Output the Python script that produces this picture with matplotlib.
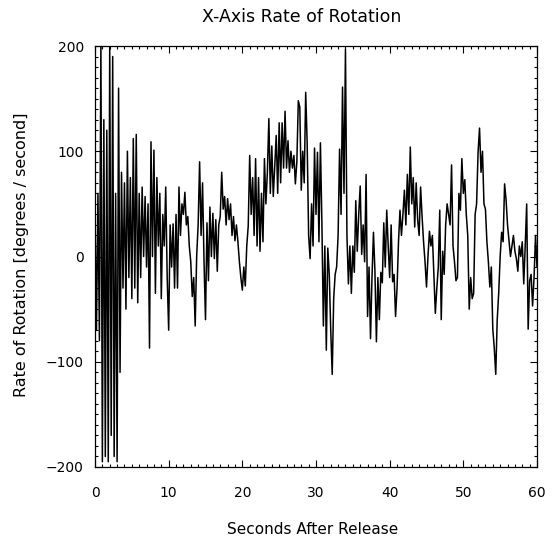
import matplotlib
matplotlib.use("Agg")
import matplotlib.pyplot as plt
from matplotlib.ticker import MultipleLocator
import numpy as np

# Rate of rotation sampled every 0.2 s (one row per second)
rate = [
    40, -70, 60, -80, 200,
    -195, 130, -190, 120, -195,
    200, -170, 190, -190, 60,
    -195, 160, -110, 80, -30,
    70, -50, 100, -20, 75,
    -40, 112, -30, 116, -44,
    60, -20, 66, 0, 57,
    -10, 50, -87, 109, 0,
    101, -35, 75, 10, 60,
    -40, 40, 10, 66, -20,
    -70, 30, -10, 31, -30,
    40, -30, 66, 20, 50,
    40, 61, 30, 38, 10,
    -5, -38, -20, -66, 0,
    30, 90, 20, 70, -5,
    -60, 32, -23, 47, 0,
    41, -2, 35, -14, 30,
    38, 80, 45, 57, 30,
    55, 35, 50, 20, 38,
    15, 30, 14, -5, -20,
    -32, -10, -28, 10, 29,
    96, 40, 75, 20, 93,
    10, 75, 5, 60, 14,
    93, 50, 80, 131, 60,
    105, 57, 87, 115, 60,
    127, 70, 127, 84, 138,
    84, 110, 80, 100, 84,
    96, 69, 90, 148, 142,
    63, 100, 70, 156, 108,
    20, -2, 50, 10, 103,
    40, 99, 14, 108, 32,
    -66, 10, -89, 8, -17,
    -70, -112, -40, -17, -10,
    20, 102, 40, 161, 60,
    197, 20, -26, 10, -35,
    10, -15, 53, 5, 40,
    67, 2, 30, -5, 78,
    -57, -10, -78, -20, 23,
    -14, -81, -20, -60, -15,
    -25, 32, -10, 44, 10,
    -20, 30, -24, -17, -57,
    -30, 14, 44, 20, 40,
    63, 30, 78, 40, 104,
    50, 75, 28, 70, 35,
    20, 66, 38, 14, -5,
    -29, 0, 24, 10, 20,
    -17, -54, -30, -10, 44,
    -60, 5, -17, 30, 50,
    40, 30, 87, 10, -5,
    -23, -20, 60, 44, 93,
    60, 73, 40, 20, -50,
    -20, -40, -35, 40, 50,
    99, 122, 80, 100, 50,
    45, 14, -5, -29, -10,
    -69, -87, -112, -60, -35,
    0, 23, 14, 69, 54,
    30, 15, 0, 10, 20,
    5, -2, -14, 10, 0,
    14, -26, 10, 50, -69,
    -23, -17, -47, -20, 20,
    -10,
]
dt = 0.2
t = np.arange(len(rate)) * dt

x_ticks = [0, 10, 20, 30, 40, 50, 60]
y_ticks = [-200, -100, 0, 100, 200]

fig = plt.figure(figsize=(5.55, 5.46), dpi=100)
ax = fig.add_axes([95/555, 1-467/546, (537-95)/555, (467-46)/546])
ax.plot(t, rate, color="black", lw=1.1)
ax.set_xlim(0, 60)
ax.set_ylim(-200, 200)
ax.set_xticks(x_ticks)
ax.set_yticks(y_ticks)
ax.xaxis.set_minor_locator(MultipleLocator(1))
ax.yaxis.set_minor_locator(MultipleLocator(10))
ax.tick_params(which="both", direction="in", top=True, right=True,
               labelsize=10, width=0.8)
ax.tick_params(which="major", length=5)
ax.tick_params(which="minor", length=2.5)
ax.tick_params(axis="x", which="major", pad=14)
ax.tick_params(axis="y", which="major", pad=8)
for s in ax.spines.values():
    s.set_linewidth(0.9)
fig.text(302/555, 1-17/546, "X-Axis Rate of Rotation", fontsize=12.5,
         ha="center", va="center")
fig.text(313/555, 1-530/546, "Seconds After Release", fontsize=11,
         ha="center", va="center")
fig.text(22/555, 1-255/546, "Rate of Rotation [degrees / second]", fontsize=11.5,
         ha="center", va="center", rotation=90)
fig.savefig("out.png", dpi=100)
